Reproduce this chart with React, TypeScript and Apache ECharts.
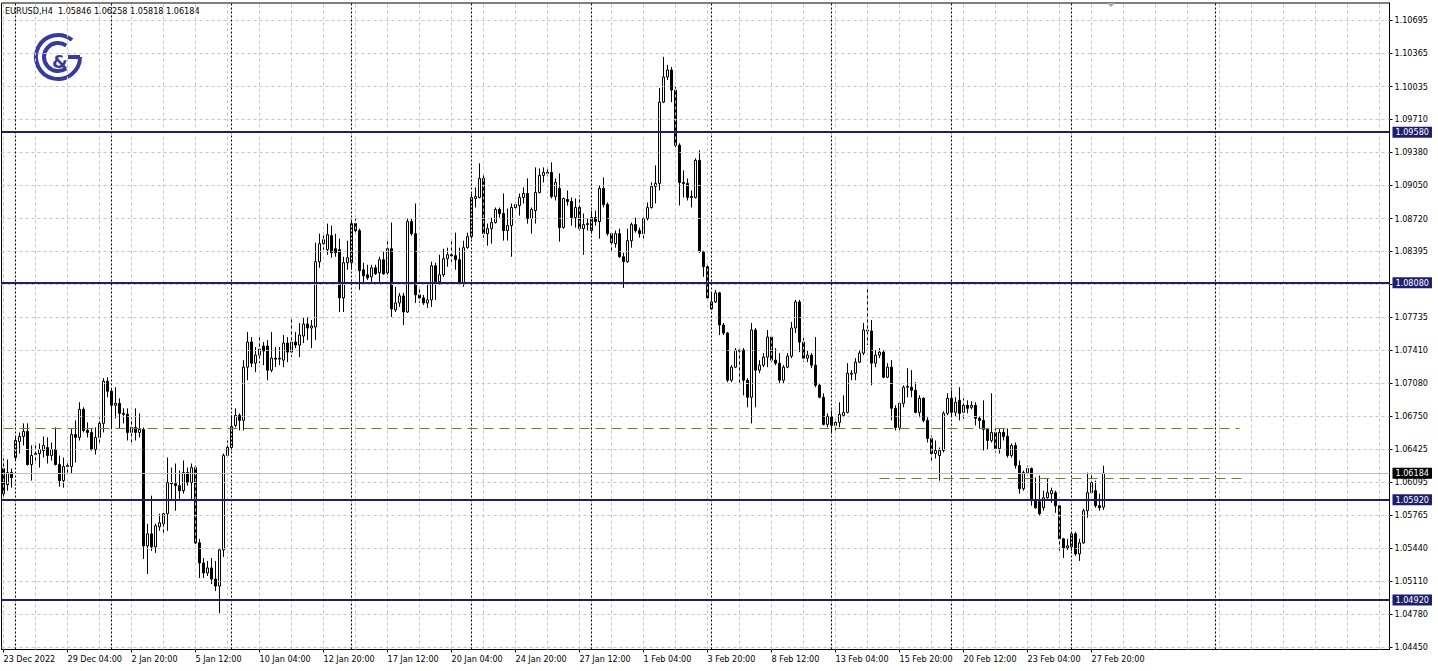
import React, { useEffect, useRef } from "react";
import * as echarts from "echarts";

const opens = [1.0623,1.0607,1.0619,1.0634,1.065,1.0655,1.066,1.0627,1.0637,1.0638,
1.0641,1.0644,1.0636,1.0642,1.0627,1.0611,1.0625,1.0625,1.0657,1.0654,
1.0682,1.0661,1.0659,1.0642,1.0654,1.0668,1.071,1.07,1.0686,1.0688,
1.0678,1.0677,1.0659,1.0664,1.0659,1.0662,1.0546,1.0558,1.0545,1.0565,
1.0568,1.0578,1.0609,1.0608,1.0606,1.0601,1.0619,1.0609,1.0624,1.0549,
1.0529,1.0519,1.0524,1.0513,1.0506,1.0542,1.0636,1.0644,1.0666,1.0676,
1.0671,1.0724,1.0749,1.0728,1.0736,1.0745,1.0745,1.0721,1.0733,1.0732,
1.0731,1.0748,1.0739,1.0749,1.0746,1.0755,1.0767,1.0763,1.0764,1.0829,
1.0847,1.0841,1.0855,1.0842,1.0841,1.0793,1.0828,1.0828,1.0867,1.086,
1.0821,1.0816,1.0814,1.0823,1.0818,1.0831,1.0818,1.0842,1.0781,1.0788,
1.0795,1.0779,1.0869,1.0857,1.0796,1.0793,1.0788,1.0791,1.0825,1.0809,
1.0816,1.0832,1.0836,1.0835,1.0831,1.0808,1.0843,1.0854,1.0892,1.0893,
1.0912,1.0857,1.0862,1.0868,1.0881,1.0877,1.086,1.0865,1.0883,1.0885,
1.0893,1.0897,1.0872,1.088,1.0898,1.0915,1.0918,1.0918,1.0894,1.0902,
1.0863,1.0891,1.0889,1.0873,1.0883,1.0862,1.0866,1.086,1.0873,1.0869,
1.0902,1.0886,1.0857,1.0847,1.0857,1.0834,1.0829,1.085,1.0866,1.086,
1.0857,1.0872,1.0883,1.0904,1.0907,1.0988,1.1013,1.102,1.1,1.0945,
1.0908,1.0907,1.0893,1.0893,1.093,1.0839,1.0824,1.0782,1.0789,1.0798,
1.0766,1.0758,1.0711,1.0724,1.074,1.0741,1.0711,1.0694,1.0761,1.0721,
1.0726,1.0734,1.0754,1.0731,1.0728,1.0711,1.0724,1.0735,1.0763,1.0789,
1.0749,1.0733,1.0736,1.0726,1.0706,1.0694,1.0667,1.0675,1.0666,1.0669,
1.0676,1.0679,1.0717,1.0718,1.0729,1.0738,1.0761,1.076,1.0728,1.0736,
1.0739,1.0714,1.0724,1.0683,1.0664,1.0688,1.0704,1.0704,1.0701,1.0679,
1.0693,1.0671,1.0653,1.0638,1.0636,1.0641,1.0678,1.0693,1.0679,1.0691,
1.0679,1.0686,1.0684,1.0686,1.0673,1.0671,1.0662,1.0651,1.0659,1.0643,
1.0659,1.0655,1.0636,1.0646,1.0626,1.0603,1.0619,1.0623,1.0591,1.059,
1.0584,1.0594,1.0598,1.0599,1.0586,1.0553,1.0544,1.0545,1.0558,1.0538,
1.0549,1.0581,1.0599,1.0601,1.0586,1.05846];

const highs = [1.0633,1.0632,1.0623,1.0655,1.0659,1.0668,1.0668,1.0646,1.0649,1.0648,
1.0655,1.0654,1.0649,1.0664,1.0636,1.0634,1.0631,1.0663,1.0671,1.0689,
1.0684,1.0669,1.0663,1.0664,1.0674,1.0713,1.0714,1.0703,1.0704,1.0693,
1.0683,1.0683,1.0674,1.0683,1.0678,1.0664,1.0568,1.0596,1.0568,1.0578,
1.0579,1.0634,1.0624,1.0628,1.0621,1.0631,1.0624,1.0628,1.0626,1.0553,
1.0534,1.0531,1.0534,1.0531,1.0544,1.0638,1.0651,1.0676,1.0683,1.0678,
1.0731,1.0759,1.0754,1.0744,1.0754,1.0749,1.0751,1.0759,1.0744,1.0744,
1.0756,1.0754,1.0774,1.0759,1.0768,1.0774,1.0774,1.0771,1.0848,1.0857,
1.0858,1.0867,1.0865,1.0857,1.0852,1.0834,1.085,1.087,1.0872,1.0862,
1.0828,1.0826,1.0826,1.0826,1.0834,1.0839,1.0852,1.0868,1.0804,1.0798,
1.0798,1.0872,1.0872,1.0887,1.0804,1.0796,1.0806,1.0829,1.0828,1.0836,
1.0842,1.0843,1.085,1.0858,1.0843,1.085,1.0858,1.0897,1.0903,1.0927,
1.0917,1.0867,1.0873,1.0883,1.0883,1.0897,1.0882,1.0887,1.0888,1.0897,
1.0903,1.0912,1.0883,1.0923,1.0922,1.0923,1.0922,1.0928,1.0912,1.0917,
1.0893,1.09,1.0893,1.0892,1.0895,1.0877,1.0872,1.088,1.088,1.0905,
1.0913,1.0888,1.0858,1.086,1.0862,1.0838,1.0862,1.0868,1.0873,1.0863,
1.0875,1.0888,1.0908,1.0925,1.1002,1.1033,1.1025,1.1023,1.1003,1.0947,
1.092,1.0912,1.09,1.0932,1.094,1.084,1.0826,1.0799,1.0801,1.0799,
1.0768,1.0759,1.0726,1.0743,1.0744,1.0743,1.0713,1.0768,1.0763,1.0731,
1.0738,1.0761,1.0756,1.0743,1.0738,1.0726,1.0738,1.0769,1.0791,1.0791,
1.0753,1.0741,1.0738,1.0754,1.0708,1.0698,1.0678,1.0681,1.0673,1.0689,
1.0696,1.0728,1.0721,1.0733,1.0741,1.0768,1.0804,1.0771,1.0741,1.0743,
1.0741,1.0728,1.0731,1.0686,1.0689,1.0706,1.0723,1.0721,1.0709,1.0696,
1.0694,1.0674,1.0656,1.0651,1.0644,1.068,1.0698,1.0701,1.0694,1.0704,
1.0693,1.0691,1.069,1.0689,1.0675,1.0691,1.0663,1.0698,1.0663,1.0663,
1.0663,1.0663,1.0648,1.0649,1.0631,1.0621,1.0626,1.0624,1.0614,1.0616,
1.0601,1.0613,1.0604,1.0601,1.0589,1.0554,1.0553,1.056,1.056,1.0553,
1.0583,1.0619,1.0619,1.0611,1.0598,1.06258];

const lows = [1.0592,1.0601,1.0604,1.0631,1.0638,1.0646,1.0626,1.0611,1.0628,1.0624,
1.0634,1.0628,1.0631,1.0626,1.0605,1.0604,1.0618,1.0618,1.0629,1.0651,
1.0659,1.0654,1.0641,1.0637,1.0648,1.0659,1.0694,1.0663,1.0673,1.0663,
1.0668,1.0651,1.0649,1.0651,1.0654,1.0533,1.0518,1.0541,1.0539,1.0561,
1.0558,1.0561,1.0591,1.0581,1.0591,1.0598,1.0606,1.0591,1.0548,1.0514,
1.0514,1.0516,1.0508,1.0501,1.0479,1.0535,1.0634,1.0641,1.0664,1.0661,
1.0661,1.0711,1.0724,1.0719,1.0728,1.0726,1.0711,1.0719,1.0724,1.0726,
1.0724,1.0729,1.0734,1.0743,1.0734,1.0748,1.0751,1.0743,1.0751,1.0823,
1.0841,1.0836,1.0833,1.0834,1.0779,1.0779,1.0821,1.0821,1.0858,1.0801,
1.0806,1.0811,1.0809,1.0816,1.0809,1.0816,1.0813,1.0774,1.0779,1.0784,
1.0766,1.0778,1.0855,1.0788,1.0788,1.0786,1.0783,1.0784,1.0791,1.0806,
1.0814,1.0824,1.0829,1.0821,1.0806,1.0804,1.0842,1.0852,1.0883,1.0892,
1.0853,1.0845,1.0847,1.0867,1.0873,1.085,1.085,1.0834,1.088,1.0875,
1.0887,1.0867,1.0857,1.0867,1.0897,1.0908,1.0914,1.0892,1.089,1.0849,
1.0862,1.0885,1.0865,1.0863,1.086,1.0836,1.086,1.0857,1.0865,1.0852,
1.0883,1.0855,1.0838,1.0843,1.0833,1.0803,1.0828,1.0843,1.0858,1.0853,
1.0852,1.087,1.0882,1.0887,1.09,1.0987,1.101,1.0988,1.0943,1.0885,
1.0893,1.089,1.0883,1.0892,1.0838,1.0814,1.0791,1.0781,1.0788,1.0756,
1.0756,1.0709,1.0709,1.0723,1.0708,1.0696,1.0684,1.0668,1.0684,1.0718,
1.0724,1.0724,1.0729,1.0726,1.0708,1.0708,1.0723,1.0733,1.0758,1.0739,
1.0729,1.0729,1.0723,1.0704,1.0693,1.0666,1.0664,1.0658,1.0661,1.0664,
1.0674,1.0678,1.0711,1.0711,1.0728,1.0736,1.0746,1.0706,1.0724,1.0733,
1.0713,1.0713,1.0671,1.0661,1.0661,1.0684,1.0694,1.0694,1.0678,1.0674,
1.0669,1.0649,1.0629,1.0633,1.0611,1.0639,1.0676,1.0674,1.0675,1.0671,
1.0671,1.0678,1.0682,1.0666,1.0663,1.0641,1.0642,1.0649,1.0639,1.0638,
1.0651,1.0634,1.0634,1.0623,1.0598,1.0601,1.0616,1.0586,1.0583,1.0576,
1.0581,1.0593,1.0589,1.0579,1.0541,1.0534,1.0542,1.0541,1.0536,1.0531,
1.0548,1.0574,1.0598,1.0584,1.0581,1.05818];

const closes = [1.0598,1.0619,1.0614,1.0651,1.0655,1.066,1.0627,1.0636,1.0638,1.0642,
1.0646,1.0636,1.0642,1.0627,1.0611,1.0625,1.0626,1.0657,1.0654,1.0682,
1.0661,1.0659,1.0642,1.0654,1.0668,1.071,1.07,1.0686,1.0688,1.0678,
1.0677,1.0659,1.0664,1.0659,1.0662,1.0546,1.0558,1.0545,1.0566,1.0569,
1.0578,1.0609,1.0608,1.0606,1.0601,1.0619,1.0609,1.0624,1.0549,1.0529,
1.0519,1.0524,1.0513,1.0506,1.0542,1.0636,1.0644,1.0665,1.0676,1.0671,
1.0724,1.0749,1.0728,1.0736,1.0742,1.074,1.0721,1.0733,1.0732,1.0733,
1.0748,1.0739,1.0749,1.0746,1.0756,1.0767,1.0763,1.0765,1.0829,1.0847,
1.0851,1.0856,1.0838,1.0838,1.0793,1.0828,1.0833,1.0867,1.086,1.082,
1.0815,1.0813,1.0823,1.0817,1.0831,1.0817,1.0842,1.0782,1.0788,1.0795,
1.0779,1.0869,1.0857,1.0796,1.0793,1.0788,1.0791,1.0825,1.0809,1.0816,
1.0832,1.0836,1.0835,1.0831,1.0808,1.0843,1.0854,1.0893,1.0894,1.0912,
1.0857,1.0862,1.0868,1.0881,1.0877,1.086,1.0865,1.0883,1.0886,1.0893,
1.0897,1.0872,1.0881,1.0898,1.0915,1.0918,1.0917,1.0894,1.0908,1.0863,
1.0892,1.0889,1.0873,1.0883,1.0862,1.0866,1.0867,1.0873,1.0869,1.0902,
1.0886,1.0857,1.0848,1.0857,1.0834,1.0829,1.085,1.0866,1.086,1.0857,
1.0872,1.0883,1.0904,1.0907,1.0988,1.1013,1.102,1.1,1.0945,1.0908,
1.0907,1.0893,1.0894,1.093,1.0839,1.0824,1.0793,1.0789,1.0798,1.0766,
1.0758,1.0711,1.0724,1.0741,1.0741,1.0711,1.0694,1.0761,1.0721,1.0726,
1.0734,1.0754,1.0731,1.0728,1.0711,1.0724,1.0735,1.0763,1.0789,1.0749,
1.0733,1.0736,1.0726,1.0706,1.0694,1.0667,1.0675,1.0666,1.0669,1.0677,
1.0679,1.0718,1.0718,1.0729,1.0738,1.0761,1.076,1.0728,1.0736,1.0739,
1.0714,1.0724,1.0683,1.0664,1.0688,1.0704,1.0705,1.0701,1.0679,1.0693,
1.0671,1.0653,1.0638,1.0641,1.0641,1.0678,1.0693,1.0679,1.0689,1.0678,
1.0686,1.0683,1.0686,1.0673,1.0671,1.0662,1.0651,1.0659,1.0643,1.0659,
1.0655,1.0636,1.0646,1.0626,1.0603,1.0619,1.0623,1.0591,1.0584,1.0578,
1.0594,1.0599,1.0601,1.0586,1.0553,1.0544,1.0546,1.0558,1.0538,1.0549,
1.0581,1.0599,1.0609,1.0586,1.0584,1.06184];

const xTickLabels = ["23 Dec 2022", "29 Dec 04:00", "2 Jan 20:00", "5 Jan 12:00", "10 Jan 04:00", "12 Jan 20:00", "17 Jan 12:00", "20 Jan 04:00", "24 Jan 20:00", "27 Jan 12:00", "1 Feb 04:00", "3 Feb 20:00", "8 Feb 12:00", "13 Feb 04:00", "15 Feb 20:00", "20 Feb 12:00", "23 Feb 04:00", "27 Feb 20:00"];
// price grid lines (every one has a tick); the 1.08065 label sits under the 1.08080 box
const yTickValues = [1.0445, 1.0478, 1.0511, 1.0544, 1.05765, 1.06095, 1.06425, 1.0675, 1.0708, 1.0741, 1.07735, 1.08065, 1.08395, 1.0872, 1.0905, 1.0938, 1.0971, 1.10035, 1.10365, 1.10695];
const yLabelValues = [1.0445, 1.0478, 1.0511, 1.0544, 1.05765, 1.06095, 1.06425, 1.0675, 1.0708, 1.0741, 1.07735, 1.08395, 1.0872, 1.0905, 1.0938, 1.0971, 1.10035, 1.10365, 1.10695];
const levelLines = [1.0958, 1.0808, 1.0592, 1.0492];
const currentPrice = 1.06184;
const weekSeparators = [3, 27, 57, 87, 117, 147, 177, 207, 237, 267, 303];
const dashedLevels = [
  { value: 1.0663, from: 0, to: 309 },
  { value: 1.0613, from: 219, to: 311 },
];
const headerText = "EURUSD,H4  1.05846 1.06258 1.05818 1.06184";

const LABEL_STEP = 16;
const GRID_STEP = 8;
const TOTAL_SLOTS = 347;
const Y_MIN = 1.04428;
const Y_MAX = 1.10867;

const FONT = '"DejaVu Sans Condensed", "Liberation Sans", Arial, sans-serif';
const NAVY = "#1e1e6c";
const OLIVE = "#7c7c22";
const LOGO = "#383b9c";

export default function App() {
  const ref = useRef<HTMLDivElement | null>(null);
  useEffect(() => {
    if (!ref.current) return;
    const chart = echarts.init(ref.current, null, { renderer: "svg" });
    const categories = Array.from({ length: TOTAL_SLOTS }, (_, i) => String(i));
    const candles = opens.map((o, i) => [o, closes[i], lows[i], highs[i]]);
    const showLabel = (i: number) => i % LABEL_STEP === 0 && i / LABEL_STEP < xTickLabels.length;
    const gridVertical: any[] = [];
    for (let i = 0; i < TOTAL_SLOTS; i += GRID_STEP) gridVertical.push({ xAxis: i });
    const gridHorizontal = yTickValues.map((v) => ({ yAxis: v }));
    const boxLabel = (bg: string) => ({
      show: true,
      position: "end",
      distance: 3,
      formatter: (p: any) => Number(p.value).toFixed(5),
      backgroundColor: bg,
      color: "#fff",
      fontSize: 9,
      fontFamily: FONT,
      lineHeight: 10,
      padding: [1, 3, 0, 3],
    });

    const option: any = {
      animation: false,
      backgroundColor: "#fff",
      textStyle: { fontFamily: FONT },
      grid: {
        left: 1.5,
        right: 48.5,
        top: 3,
        bottom: 21.5,
        show: true,
        borderColor: "#000",
        borderWidth: 1,
        backgroundColor: "transparent",
      },
      xAxis: {
        type: "category",
        data: categories,
        boundaryGap: true,
        axisLine: { show: true, lineStyle: { color: "#000", width: 1 } },
        axisTick: { show: true, alignWithLabel: true, interval: showLabel, length: 3, lineStyle: { color: "#000" } },
        axisLabel: {
          interval: showLabel,
          formatter: (_v: any, i: number) => xTickLabels[i / LABEL_STEP] || "",
          align: "left",
          margin: 5,
          color: "#000",
          fontSize: 9,
          fontFamily: FONT,
        },
        splitLine: { show: false },
      },
      yAxis: {
        type: "value",
        position: "right",
        min: Y_MIN,
        max: Y_MAX,
        axisLine: { show: true, lineStyle: { color: "#000" } },
        axisTick: { show: true, customValues: yTickValues, length: 3, lineStyle: { color: "#000" } },
        axisLabel: {
          customValues: yLabelValues,
          formatter: (v: number) => v.toFixed(5),
          color: "#000",
          fontSize: 9,
          margin: 5,
          fontFamily: FONT,
        },
        splitLine: { show: false },
      },
      series: [
        {
          type: "line",
          z: 1,
          data: [],
          markLine: {
            silent: true,
            precision: 6,
            symbol: ["none", "none"],
            label: { show: false },
            lineStyle: { color: "#c4c4c4", width: 1, type: [3, 3] },
            data: [...gridVertical, ...gridHorizontal],
          },
        },
        {
          type: "line",
          z: 2,
          data: [],
          markLine: {
            silent: true,
            precision: 6,
            symbol: ["none", "none"],
            label: { show: false },
            lineStyle: { color: "#000", width: 1, type: [2, 2] },
            data: weekSeparators.map((i) => ({ xAxis: i })),
          },
        },
        {
          type: "line",
          z: 2,
          data: [],
          markLine: {
            silent: true,
            precision: 6,
            symbol: ["none", "none"],
            lineStyle: { color: "#bdbdbd", width: 1, type: "solid" },
            data: [{ yAxis: currentPrice, label: boxLabel("#000") }],
          },
        },
        {
          type: "candlestick",
          z: 3,
          data: candles,
          barWidth: 2,
          itemStyle: {
            color: "#fff",
            color0: "#000",
            borderColor: "#000",
            borderColor0: "#000",
            borderWidth: 1,
          },
        },
        {
          type: "line",
          z: 4,
          data: [],
          markLine: {
            silent: true,
            precision: 6,
            symbol: ["none", "none"],
            label: { show: false },
            lineStyle: { color: OLIVE, width: 1, type: [10, 6] },
            data: dashedLevels.map((d) => [
              { coord: [d.from, d.value] },
              { coord: [d.to, d.value] },
            ]),
          },
        },
        {
          type: "line",
          z: 5,
          data: [],
          markLine: {
            silent: true,
            precision: 6,
            symbol: ["none", "none"],
            lineStyle: { color: NAVY, width: 2, type: "solid" },
            data: levelLines.map((v) => ({ yAxis: v, label: boxLabel(NAVY) })),
          },
        },
      ],
      graphic: [
        {
          type: "text",
          left: 5,
          top: 6,
          style: { text: headerText, fill: "#000", fontSize: 9, fontFamily: FONT },
        },
        {
          type: "arc",
          shape: { cx: 58, cy: 57, r: 22, startAngle: 0, endAngle: Math.PI * 1.72, clockwise: true },
          style: { stroke: LOGO, lineWidth: 4, fill: null },
        },
        {
          type: "line",
          shape: { x1: 80, y1: 57, x2: 68, y2: 57 },
          style: { stroke: LOGO, lineWidth: 4 },
        },
        {
          type: "arc",
          shape: { cx: 58, cy: 57, r: 14, startAngle: Math.PI * 0.3, endAngle: Math.PI * 1.7, clockwise: true },
          style: { stroke: LOGO, lineWidth: 4, fill: null },
        },
        {
          type: "text",
          left: 52,
          top: 52,
          style: { text: "&", fill: LOGO, fontSize: 18, fontWeight: "bold", fontFamily: "DejaVu Sans, sans-serif" },
        },
        {
          type: "polygon",
          shape: { points: [[1107, 3], [1115, 3], [1111, 7]] },
          style: { fill: "#a8a8a8" },
        },
      ],
    };
    chart.setOption(option);
    return () => chart.dispose();
  }, []);
  return (
    <div
      ref={ref}
      style={{ position: "absolute", left: 0, top: 0, width: 1438, height: 671, background: "#fff" }}
    />
  );
}
